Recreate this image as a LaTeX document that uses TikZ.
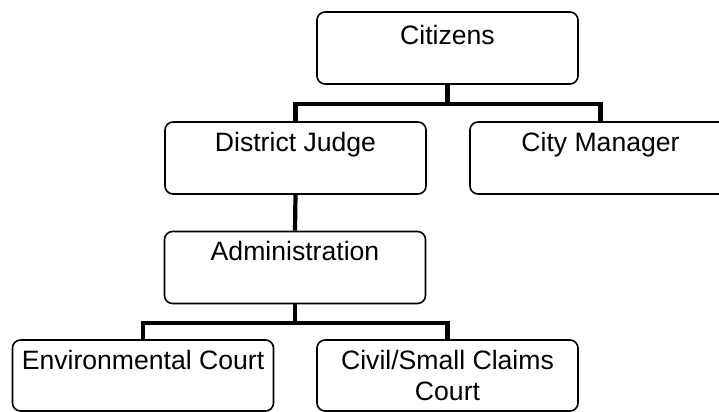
\documentclass[tikz,border=0pt]{standalone}
\usepackage{fontspec}
\setmainfont{Liberation Sans}
\usepackage{tikz}
\usetikzlibrary{positioning}

\begin{document}
\begin{tikzpicture}[x=0.5pt,y=-0.5pt,
		unit/.style={draw=black,line width=0.8pt,rounded corners=4pt,
			minimum width=130.5pt,minimum height=36pt,inner sep=0pt,
			text height=14.5pt,text depth=21.5pt,align=center,
			font=\fontsize{13.3}{15.5}\selectfont},
		link/.style={line width=2.1pt}]
	\useasboundingbox (0,0) rectangle (719,412);
	
	% Offices, one row per level.
	\node[unit,text height=16pt,text depth=20pt] (cit) at (447.5,48) {Citizens};
	\node[unit] (dj) at (295.5,158) {District Judge};
	\node[unit] (cm) at (600.5,158) {City Manager};
	\node[unit] (adm) at (295,267.5) {Administration};
	\node[unit,minimum height=35.5pt,text depth=21pt] (env) at (143,375.5) {Environmental Court};
	\node[unit,minimum height=35.5pt,text height=30pt,text depth=5.5pt] (civ) at (447.5,375.5) {Civil/Small Claims\\Court};
	
	% Reporting lines.
	\draw[link] (cit.south) -- ++(0,19) -| (dj.north);
	\draw[link] (cit.south) -- ++(0,19) -| (cm.north);
	\draw[link] (dj.south) -- (adm.north);
	\draw[link] (adm.south) -- ++(0,18.5) -| (env.north);
	\draw[link] (adm.south) -- ++(0,18.5) -| (civ.north);
\end{tikzpicture}
\end{document}
